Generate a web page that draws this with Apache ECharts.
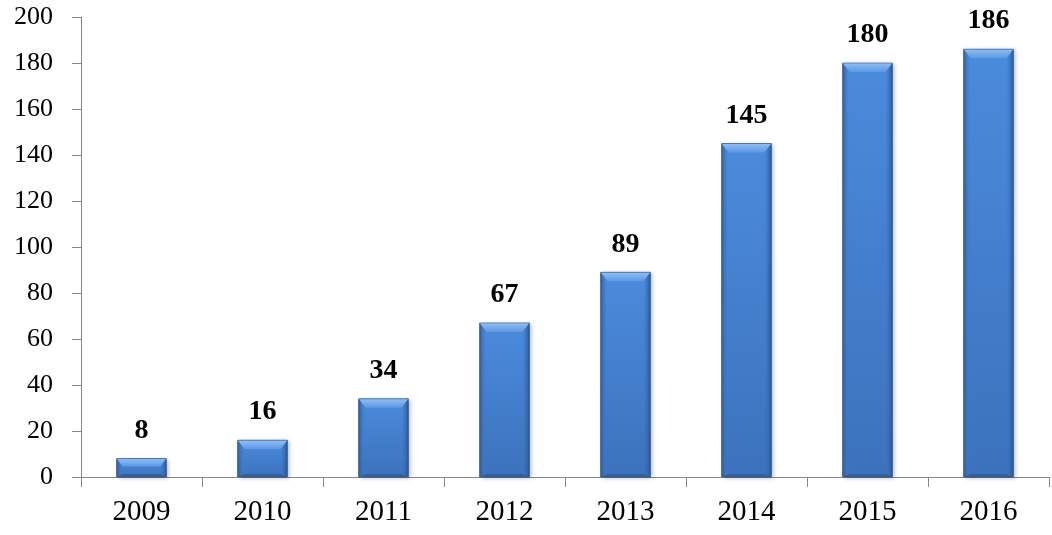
<!DOCTYPE html>
<html><head><meta charset="utf-8">
<script src="https://cdn.jsdelivr.net/npm/echarts@6/dist/echarts.min.js"></script>
<style>html,body{margin:0;padding:0;background:#fff}#c{width:1052px;height:535px}</style>
</head><body><div id="c"></div>
<script>
var categories = ['2009','2010','2011','2012','2013','2014','2015','2016'];
var values = [8, 16, 34, 67, 89, 145, 180, 186];
var yTicks = {min: 0, max: 200, interval: 20};

var FONT = '"Liberation Serif", "Times New Roman", serif';
var chart = echarts.init(document.getElementById('c'));

function lg(x1,y1,x2,y2,stops){return new echarts.graphic.LinearGradient(x1,y1,x2,y2,stops);}

function renderItem(params, api){
  var idx = api.value(0), v = api.value(1);
  var top = api.coord([idx, v]);
  var base = api.coord([idx, 0]);
  var cw = api.size([1,0])[0];
  var w = cw * 0.41;
  var x = top[0] - w/2, y = top[1], h = base[1] - top[1];
  var b = Math.min(9, h/2.3);
  var s = Math.min(7, h/3);
  var bb = Math.min(3, h/6);
  var children = [
    {type:'rect', shape:{x:x, y:y, width:w, height:h},
     style:{fill:'#3f78c2', shadowBlur:4, shadowOffsetX:2, shadowOffsetY:1, shadowColor:'rgba(0,0,0,0.3)'}},
    {type:'rect', shape:{x:x, y:y, width:w, height:h},
     style:{fill: lg(0,0,0,1,[{offset:0,color:'#4b8bdc'},{offset:1,color:'#3c72bd'}])}},
    {type:'polygon', shape:{points:[[x,y],[x+s,y+b],[x+s,y+h-bb],[x,y+h]]},
     style:{fill: lg(0,0,1,0,[{offset:0,color:'#2f5f9f'},{offset:1,color:'rgba(70,130,210,0)'}])}},
    {type:'polygon', shape:{points:[[x+w,y],[x+w,y+h],[x+w-s,y+h-bb],[x+w-s,y+b]]},
     style:{fill: lg(1,0,0,0,[{offset:0,color:'#2b5892'},{offset:1,color:'rgba(60,115,195,0)'}])}},
    {type:'polygon', shape:{points:[[x,y],[x+w,y],[x+w-s,y+b],[x+s,y+b]]},
     style:{fill: lg(0,0,0,1,[{offset:0,color:'#93bff2'},{offset:1,color:'#5b98e4'}])}},
    {type:'polygon', shape:{points:[[x,y+h],[x+s,y+h-bb],[x+w-s,y+h-bb],[x+w,y+h]]},
     style:{fill:'#30609f'}},
    {type:'rect', shape:{x:x, y:y, width:w, height:h},
     style:{fill:'none', stroke:'rgba(40,80,140,0.6)', lineWidth:1}},
    {type:'text', style:{text:String(values[idx]), x:top[0], y:y-14, align:'center', verticalAlign:'bottom',
      fill:'#000', font:'bold 28px ' + FONT}}
  ];
  return {type:'group', children:children};
}

chart.setOption({
  animation:false,
  grid:{left:81, right:3, top:17, bottom:58, containLabel:false},
  xAxis:{
    type:'category', data:categories, boundaryGap:true,
    axisLine:{lineStyle:{color:'#868686', width:1}},
    axisTick:{show:true, length:10, interval:0, alignWithLabel:false, lineStyle:{color:'#868686'}},
    axisLabel:{color:'#000', fontFamily:FONT, fontSize:29, margin:21, interval:0},
    splitLine:{show:false}
  },
  yAxis:{
    type:'value', min:yTicks.min, max:yTicks.max, interval:yTicks.interval,
    axisLine:{show:true, lineStyle:{color:'#868686', width:1}},
    axisTick:{show:true, length:9, lineStyle:{color:'#868686'}},
    axisLabel:{color:'#000', fontFamily:FONT, fontSize:26, margin:28},
    splitLine:{show:false}
  },
  series:[{
    type:'custom', renderItem:renderItem,
    data: values.map(function(v,i){return [i, v];}),
    encode:{x:0, y:1}, clip:false
  }]
});
</script></body></html>
